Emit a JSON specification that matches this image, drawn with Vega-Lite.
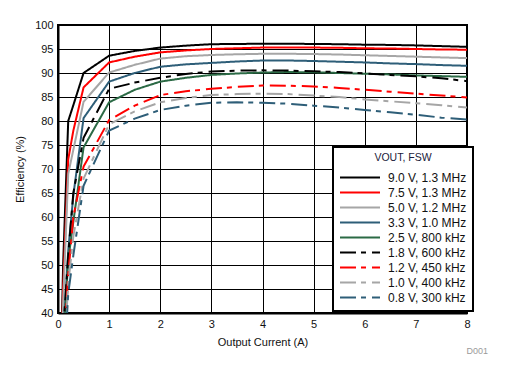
{
  "$schema": "https://vega.github.io/schema/vega-lite/v6.json",
  "width": 409,
  "height": 288,
  "autosize": {"type": "none"},
  "padding": {"left": 58, "top": 25, "right": 38, "bottom": 62},
  "title": {"text": "D001", "orient": "bottom", "anchor": "end", "frame": "group", "fontSize": 9, "color": "#9a9a9a", "font": "Liberation Sans", "fontWeight": "normal", "dx": 21, "offset": 0},
  "data": {"values": [
    {"s": "9.0 V, 1.3 MHz", "x": 0.05, "y": 25}, {"s": "9.0 V, 1.3 MHz", "x": 0.1, "y": 50}, {"s": "9.0 V, 1.3 MHz", "x": 0.2, "y": 80}, {"s": "9.0 V, 1.3 MHz", "x": 0.3, "y": 83.3}, {"s": "9.0 V, 1.3 MHz", "x": 0.5, "y": 90}, {"s": "9.0 V, 1.3 MHz", "x": 1, "y": 93.6}, {"s": "9.0 V, 1.3 MHz", "x": 1.5, "y": 94.6}, {"s": "9.0 V, 1.3 MHz", "x": 2, "y": 95.3}, {"s": "9.0 V, 1.3 MHz", "x": 2.5, "y": 95.7}, {"s": "9.0 V, 1.3 MHz", "x": 3, "y": 96.0}, {"s": "9.0 V, 1.3 MHz", "x": 3.5, "y": 96.05}, {"s": "9.0 V, 1.3 MHz", "x": 4, "y": 96.1}, {"s": "9.0 V, 1.3 MHz", "x": 4.5, "y": 96.1}, {"s": "9.0 V, 1.3 MHz", "x": 5, "y": 96.05}, {"s": "9.0 V, 1.3 MHz", "x": 5.5, "y": 96.0}, {"s": "9.0 V, 1.3 MHz", "x": 6, "y": 95.9}, {"s": "9.0 V, 1.3 MHz", "x": 6.5, "y": 95.85}, {"s": "9.0 V, 1.3 MHz", "x": 7, "y": 95.75}, {"s": "9.0 V, 1.3 MHz", "x": 7.5, "y": 95.6}, {"s": "9.0 V, 1.3 MHz", "x": 8, "y": 95.45},

    {"s": "7.5 V, 1.3 MHz", "x": 0.05, "y": 25}, {"s": "7.5 V, 1.3 MHz", "x": 0.1, "y": 45}, {"s": "7.5 V, 1.3 MHz", "x": 0.2, "y": 72}, {"s": "7.5 V, 1.3 MHz", "x": 0.3, "y": 78}, {"s": "7.5 V, 1.3 MHz", "x": 0.5, "y": 87}, {"s": "7.5 V, 1.3 MHz", "x": 1, "y": 92.2}, {"s": "7.5 V, 1.3 MHz", "x": 1.5, "y": 93.4}, {"s": "7.5 V, 1.3 MHz", "x": 2, "y": 94.3}, {"s": "7.5 V, 1.3 MHz", "x": 2.5, "y": 94.7}, {"s": "7.5 V, 1.3 MHz", "x": 3, "y": 95.0}, {"s": "7.5 V, 1.3 MHz", "x": 3.5, "y": 95.15}, {"s": "7.5 V, 1.3 MHz", "x": 4, "y": 95.3}, {"s": "7.5 V, 1.3 MHz", "x": 4.5, "y": 95.3}, {"s": "7.5 V, 1.3 MHz", "x": 5, "y": 95.3}, {"s": "7.5 V, 1.3 MHz", "x": 5.5, "y": 95.25}, {"s": "7.5 V, 1.3 MHz", "x": 6, "y": 95.15}, {"s": "7.5 V, 1.3 MHz", "x": 6.5, "y": 95.1}, {"s": "7.5 V, 1.3 MHz", "x": 7, "y": 95.0}, {"s": "7.5 V, 1.3 MHz", "x": 7.5, "y": 94.9}, {"s": "7.5 V, 1.3 MHz", "x": 8, "y": 94.85},

    {"s": "5.0 V, 1.2 MHz", "x": 0.05, "y": 22}, {"s": "5.0 V, 1.2 MHz", "x": 0.1, "y": 42}, {"s": "5.0 V, 1.2 MHz", "x": 0.2, "y": 69}, {"s": "5.0 V, 1.2 MHz", "x": 0.3, "y": 74}, {"s": "5.0 V, 1.2 MHz", "x": 0.5, "y": 84}, {"s": "5.0 V, 1.2 MHz", "x": 1, "y": 90.1}, {"s": "5.0 V, 1.2 MHz", "x": 1.5, "y": 91.7}, {"s": "5.0 V, 1.2 MHz", "x": 2, "y": 93.0}, {"s": "5.0 V, 1.2 MHz", "x": 2.5, "y": 93.5}, {"s": "5.0 V, 1.2 MHz", "x": 3, "y": 93.75}, {"s": "5.0 V, 1.2 MHz", "x": 3.5, "y": 93.9}, {"s": "5.0 V, 1.2 MHz", "x": 4, "y": 94.0}, {"s": "5.0 V, 1.2 MHz", "x": 4.5, "y": 94.0}, {"s": "5.0 V, 1.2 MHz", "x": 5, "y": 93.95}, {"s": "5.0 V, 1.2 MHz", "x": 5.5, "y": 93.85}, {"s": "5.0 V, 1.2 MHz", "x": 6, "y": 93.7}, {"s": "5.0 V, 1.2 MHz", "x": 6.5, "y": 93.55}, {"s": "5.0 V, 1.2 MHz", "x": 7, "y": 93.4}, {"s": "5.0 V, 1.2 MHz", "x": 7.5, "y": 93.25}, {"s": "5.0 V, 1.2 MHz", "x": 8, "y": 93.1},

    {"s": "3.3 V, 1.0 MHz", "x": 0.1, "y": 35}, {"s": "3.3 V, 1.0 MHz", "x": 0.2, "y": 53}, {"s": "3.3 V, 1.0 MHz", "x": 0.3, "y": 64.5}, {"s": "3.3 V, 1.0 MHz", "x": 0.5, "y": 80.6}, {"s": "3.3 V, 1.0 MHz", "x": 1, "y": 88.2}, {"s": "3.3 V, 1.0 MHz", "x": 1.5, "y": 90.0}, {"s": "3.3 V, 1.0 MHz", "x": 2, "y": 91.3}, {"s": "3.3 V, 1.0 MHz", "x": 2.5, "y": 91.8}, {"s": "3.3 V, 1.0 MHz", "x": 3, "y": 92.1}, {"s": "3.3 V, 1.0 MHz", "x": 3.5, "y": 92.4}, {"s": "3.3 V, 1.0 MHz", "x": 4, "y": 92.6}, {"s": "3.3 V, 1.0 MHz", "x": 4.5, "y": 92.6}, {"s": "3.3 V, 1.0 MHz", "x": 5, "y": 92.5}, {"s": "3.3 V, 1.0 MHz", "x": 5.5, "y": 92.35}, {"s": "3.3 V, 1.0 MHz", "x": 6, "y": 92.2}, {"s": "3.3 V, 1.0 MHz", "x": 6.5, "y": 92.0}, {"s": "3.3 V, 1.0 MHz", "x": 7, "y": 91.85}, {"s": "3.3 V, 1.0 MHz", "x": 7.5, "y": 91.65}, {"s": "3.3 V, 1.0 MHz", "x": 8, "y": 91.5},

    {"s": "2.5 V, 800 kHz", "x": 0.1, "y": 33}, {"s": "2.5 V, 800 kHz", "x": 0.2, "y": 51}, {"s": "2.5 V, 800 kHz", "x": 0.3, "y": 59}, {"s": "2.5 V, 800 kHz", "x": 0.5, "y": 74.5}, {"s": "2.5 V, 800 kHz", "x": 1, "y": 83.9}, {"s": "2.5 V, 800 kHz", "x": 1.5, "y": 86.5}, {"s": "2.5 V, 800 kHz", "x": 2, "y": 88.2}, {"s": "2.5 V, 800 kHz", "x": 2.5, "y": 89.0}, {"s": "2.5 V, 800 kHz", "x": 3, "y": 89.6}, {"s": "2.5 V, 800 kHz", "x": 3.5, "y": 89.9}, {"s": "2.5 V, 800 kHz", "x": 4, "y": 90.1}, {"s": "2.5 V, 800 kHz", "x": 4.5, "y": 90.2}, {"s": "2.5 V, 800 kHz", "x": 5, "y": 90.15}, {"s": "2.5 V, 800 kHz", "x": 5.5, "y": 90.0}, {"s": "2.5 V, 800 kHz", "x": 6, "y": 89.85}, {"s": "2.5 V, 800 kHz", "x": 6.5, "y": 89.7}, {"s": "2.5 V, 800 kHz", "x": 7, "y": 89.5}, {"s": "2.5 V, 800 kHz", "x": 7.5, "y": 89.35}, {"s": "2.5 V, 800 kHz", "x": 8, "y": 89.2},

    {"s": "1.8 V, 600 kHz", "x": 0.1, "y": 36}, {"s": "1.8 V, 600 kHz", "x": 0.2, "y": 52}, {"s": "1.8 V, 600 kHz", "x": 0.3, "y": 65}, {"s": "1.8 V, 600 kHz", "x": 0.5, "y": 76.5}, {"s": "1.8 V, 600 kHz", "x": 1, "y": 86.7}, {"s": "1.8 V, 600 kHz", "x": 1.5, "y": 88.0}, {"s": "1.8 V, 600 kHz", "x": 2, "y": 89.0}, {"s": "1.8 V, 600 kHz", "x": 2.5, "y": 89.8}, {"s": "1.8 V, 600 kHz", "x": 3, "y": 90.3}, {"s": "1.8 V, 600 kHz", "x": 3.5, "y": 90.5}, {"s": "1.8 V, 600 kHz", "x": 4, "y": 90.55}, {"s": "1.8 V, 600 kHz", "x": 4.5, "y": 90.5}, {"s": "1.8 V, 600 kHz", "x": 5, "y": 90.35}, {"s": "1.8 V, 600 kHz", "x": 5.5, "y": 90.2}, {"s": "1.8 V, 600 kHz", "x": 6, "y": 89.9}, {"s": "1.8 V, 600 kHz", "x": 6.5, "y": 89.6}, {"s": "1.8 V, 600 kHz", "x": 7, "y": 89.3}, {"s": "1.8 V, 600 kHz", "x": 7.5, "y": 88.9}, {"s": "1.8 V, 600 kHz", "x": 8, "y": 88.3},

    {"s": "1.2 V, 450 kHz", "x": 0.1, "y": 30}, {"s": "1.2 V, 450 kHz", "x": 0.2, "y": 48}, {"s": "1.2 V, 450 kHz", "x": 0.3, "y": 60}, {"s": "1.2 V, 450 kHz", "x": 0.5, "y": 70.5}, {"s": "1.2 V, 450 kHz", "x": 1, "y": 80.2}, {"s": "1.2 V, 450 kHz", "x": 1.5, "y": 83.2}, {"s": "1.2 V, 450 kHz", "x": 2, "y": 85.4}, {"s": "1.2 V, 450 kHz", "x": 2.5, "y": 86.2}, {"s": "1.2 V, 450 kHz", "x": 3, "y": 86.7}, {"s": "1.2 V, 450 kHz", "x": 3.5, "y": 87.1}, {"s": "1.2 V, 450 kHz", "x": 4, "y": 87.4}, {"s": "1.2 V, 450 kHz", "x": 4.5, "y": 87.35}, {"s": "1.2 V, 450 kHz", "x": 5, "y": 87.2}, {"s": "1.2 V, 450 kHz", "x": 5.5, "y": 86.9}, {"s": "1.2 V, 450 kHz", "x": 6, "y": 86.5}, {"s": "1.2 V, 450 kHz", "x": 6.5, "y": 86.1}, {"s": "1.2 V, 450 kHz", "x": 7, "y": 85.7}, {"s": "1.2 V, 450 kHz", "x": 7.5, "y": 85.3}, {"s": "1.2 V, 450 kHz", "x": 8, "y": 84.9},

    {"s": "1.0 V, 400 kHz", "x": 0.1, "y": 28}, {"s": "1.0 V, 400 kHz", "x": 0.2, "y": 46}, {"s": "1.0 V, 400 kHz", "x": 0.3, "y": 56}, {"s": "1.0 V, 400 kHz", "x": 0.5, "y": 68}, {"s": "1.0 V, 400 kHz", "x": 1, "y": 79.3}, {"s": "1.0 V, 400 kHz", "x": 1.5, "y": 82.0}, {"s": "1.0 V, 400 kHz", "x": 2, "y": 83.9}, {"s": "1.0 V, 400 kHz", "x": 2.5, "y": 84.8}, {"s": "1.0 V, 400 kHz", "x": 3, "y": 85.4}, {"s": "1.0 V, 400 kHz", "x": 3.5, "y": 85.6}, {"s": "1.0 V, 400 kHz", "x": 4, "y": 85.7}, {"s": "1.0 V, 400 kHz", "x": 4.5, "y": 85.6}, {"s": "1.0 V, 400 kHz", "x": 5, "y": 85.3}, {"s": "1.0 V, 400 kHz", "x": 5.5, "y": 85.0}, {"s": "1.0 V, 400 kHz", "x": 6, "y": 84.5}, {"s": "1.0 V, 400 kHz", "x": 6.5, "y": 84.1}, {"s": "1.0 V, 400 kHz", "x": 7, "y": 83.7}, {"s": "1.0 V, 400 kHz", "x": 7.5, "y": 83.3}, {"s": "1.0 V, 400 kHz", "x": 8, "y": 82.8},

    {"s": "0.8 V, 300 kHz", "x": 0.1, "y": 25}, {"s": "0.8 V, 300 kHz", "x": 0.2, "y": 44}, {"s": "0.8 V, 300 kHz", "x": 0.3, "y": 52}, {"s": "0.8 V, 300 kHz", "x": 0.5, "y": 66.5}, {"s": "0.8 V, 300 kHz", "x": 1, "y": 78.0}, {"s": "0.8 V, 300 kHz", "x": 1.5, "y": 80.5}, {"s": "0.8 V, 300 kHz", "x": 2, "y": 82.3}, {"s": "0.8 V, 300 kHz", "x": 2.5, "y": 83.2}, {"s": "0.8 V, 300 kHz", "x": 3, "y": 83.8}, {"s": "0.8 V, 300 kHz", "x": 3.5, "y": 83.9}, {"s": "0.8 V, 300 kHz", "x": 4, "y": 83.8}, {"s": "0.8 V, 300 kHz", "x": 4.5, "y": 83.6}, {"s": "0.8 V, 300 kHz", "x": 5, "y": 83.2}, {"s": "0.8 V, 300 kHz", "x": 5.5, "y": 82.8}, {"s": "0.8 V, 300 kHz", "x": 6, "y": 82.3}, {"s": "0.8 V, 300 kHz", "x": 6.5, "y": 81.8}, {"s": "0.8 V, 300 kHz", "x": 7, "y": 81.3}, {"s": "0.8 V, 300 kHz", "x": 7.5, "y": 80.7}, {"s": "0.8 V, 300 kHz", "x": 8, "y": 80.3}
  ]},
  "mark": {"type": "line", "clip": true, "strokeWidth": 2},
  "encoding": {
    "x": {"field": "x", "type": "quantitative", "scale": {"domain": [0, 8], "nice": false},
      "axis": {"title": "Output Current (A)", "values": [0, 1, 2, 3, 4, 5, 6, 7, 8], "labelFlush": false, "labelOverlap": false, "titlePadding": 7}},
    "y": {"field": "y", "type": "quantitative", "scale": {"domain": [40, 100], "nice": false, "zero": false},
      "axis": {"title": "Efficiency (%)", "values": [40, 45, 50, 55, 60, 65, 70, 75, 80, 85, 90, 95, 100], "labelFlush": false, "labelOverlap": false, "titlePadding": 9}},
    "color": {"field": "s", "type": "nominal",
      "scale": {"domain": ["9.0 V, 1.3 MHz", "7.5 V, 1.3 MHz", "5.0 V, 1.2 MHz", "3.3 V, 1.0 MHz", "2.5 V, 800 kHz", "1.8 V, 600 kHz", "1.2 V, 450 kHz", "1.0 V, 400 kHz", "0.8 V, 300 kHz"],
        "range": ["#000000", "#ff0000", "#a6a6a6", "#2e5e78", "#2b6a45", "#000000", "#ff0000", "#a6a6a6", "#2e5e78"]},
      "legend": {"title": "VOUT, FSW", "orient": "none", "legendX": 275, "legendY": 122}},
    "strokeDash": {"field": "s", "type": "nominal",
      "scale": {"domain": ["9.0 V, 1.3 MHz", "7.5 V, 1.3 MHz", "5.0 V, 1.2 MHz", "3.3 V, 1.0 MHz", "2.5 V, 800 kHz", "1.8 V, 600 kHz", "1.2 V, 450 kHz", "1.0 V, 400 kHz", "0.8 V, 300 kHz"],
        "range": [[1, 0], [1, 0], [1, 0], [1, 0], [1, 0], [16, 5, 5, 6], [16, 5, 5, 6], [16, 5, 5, 6], [16, 5, 5, 6]]},
      "legend": {"title": "VOUT, FSW", "orient": "none", "legendX": 275, "legendY": 122}}
  },
  "config": {
    "view": {"stroke": "black", "strokeWidth": 2},
    "axis": {"grid": true, "gridColor": "black", "gridWidth": 1, "gridOpacity": 1, "ticks": false, "domainColor": "black", "domainWidth": 2,
      "labelFont": "Liberation Sans", "labelFontSize": 11, "labelColor": "#111111", "labelPadding": 5,
      "titleFont": "Liberation Sans", "titleFontSize": 11, "titleFontWeight": "normal", "titleColor": "#111111"},
    "legend": {"symbolType": "stroke", "symbolSize": 1600, "symbolStrokeWidth": 2, "labelFont": "Liberation Sans", "labelFontSize": 12, "labelColor": "#111111",
      "titleFont": "Liberation Sans", "titleFontSize": 10.5, "titleFontWeight": "normal", "titleColor": "#1a1a3a", "titleAnchor": "middle",
      "padding": 6, "titlePadding": 7, "rowPadding": 1, "clipHeight": 14, "labelOffset": 7,
      "fillColor": "white", "strokeColor": "black", "strokeWidth": 2}
  }
}
